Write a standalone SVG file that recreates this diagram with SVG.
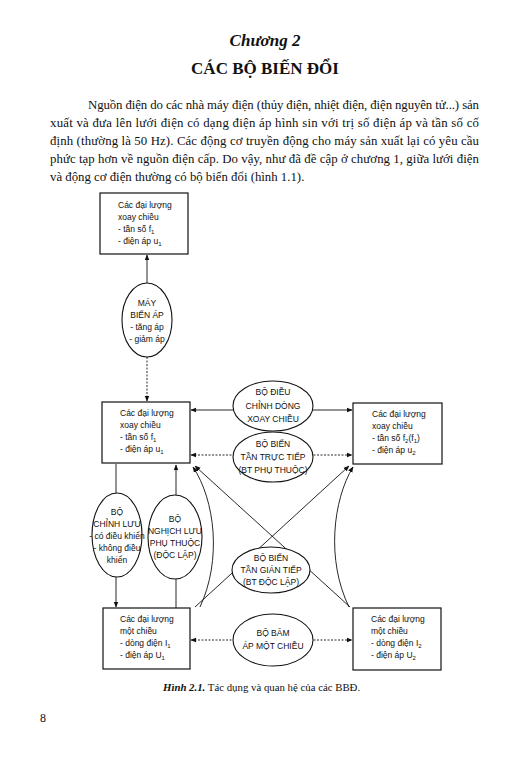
<svg xmlns="http://www.w3.org/2000/svg" width="528" height="766" viewBox="0 0 528 766">
<defs>
<style>
.serif{font-family:"Liberation Serif","Times New Roman",serif;fill:#111}
.sans{font-family:"Liberation Sans",Arial,sans-serif;font-size:8.5px;fill:#111}
.box{fill:#fff;stroke:#111;stroke-width:1.2}
.ell{fill:#fff;stroke:#111;stroke-width:1.1}
.ln{fill:none;stroke:#111;stroke-width:0.9}
.dot{fill:none;stroke:#111;stroke-width:0.9;stroke-dasharray:2 1.5}
</style>
<marker id="ah" viewBox="0 0 10 10" refX="9" refY="5" markerWidth="6" markerHeight="6" orient="auto-start-reverse" markerUnits="userSpaceOnUse">
<path d="M0,1 L10,5 L0,9 z" fill="#111"/>
</marker>
</defs>
<rect width="528" height="766" fill="#fff"/>
<text class="serif" x="265" y="46" font-size="17" font-weight="bold" font-style="italic" text-anchor="middle">Chương 2</text>
<text class="serif" x="265" y="74" font-size="17" font-weight="bold" text-anchor="middle">CÁC BỘ BIẾN ĐỔI</text>
<g class="serif" font-size="12.8">
<text x="88" y="109" textLength="391" lengthAdjust="spacing">Nguồn điện do các nhà máy điện (thủy điện, nhiệt điện, điện nguyên tử...) sản</text>
<text x="50" y="127" textLength="429" lengthAdjust="spacing">xuất và đưa lên lưới điện có dạng điện áp hình sin với trị số điện áp và tần số cố</text>
<text x="50" y="145" textLength="429" lengthAdjust="spacing">định (thường là 50 Hz). Các động cơ truyền động cho máy sản xuất lại có yêu cầu</text>
<text x="50" y="163" textLength="429" lengthAdjust="spacing">phức tạp hơn về nguồn điện cấp. Do vậy, như đã đề cập ở chương 1, giữa lưới điện</text>
<text x="50" y="181">và động cơ điện thường có bộ biến đổi (hình 1.1).</text>
</g>
<g id="connectors">
<line class="ln" x1="147" y1="284" x2="147" y2="255" marker-end="url(#ah)"/>
<line class="dot" x1="147" y1="357" x2="147" y2="401" marker-end="url(#ah)"/>
<line class="ln" x1="191" y1="410" x2="352" y2="410" marker-start="url(#ah)" marker-end="url(#ah)"/>
<line class="dot" x1="191" y1="455" x2="352" y2="455" marker-start="url(#ah)" marker-end="url(#ah)"/>
<line class="dot" x1="191" y1="640" x2="352" y2="640" marker-start="url(#ah)" marker-end="url(#ah)"/>
<line class="ln" x1="116" y1="464" x2="116" y2="607" marker-end="url(#ah)"/>
<line class="ln" x1="176" y1="608" x2="176" y2="465" marker-end="url(#ah)"/>
<line class="ln" x1="350" y1="607" x2="195" y2="466" marker-end="url(#ah)"/>
<line class="ln" x1="195" y1="607" x2="349" y2="466" marker-end="url(#ah)"/>
<path class="ln" d="M200,607 C222,560 215,500 193,467" marker-end="url(#ah)"/>
<path class="ln" d="M349,607 C326,560 333,500 353,467" marker-end="url(#ah)"/>
</g>
<g id="n1"><rect class="box" x="100" y="193" width="88" height="61"/>
<text class="sans"><tspan x="118" y="208">Các đại lượng</tspan><tspan x="118" y="220">xoay chiều</tspan><tspan x="118" y="232">- tần số f<tspan font-size="6" dy="2">1</tspan></tspan><tspan x="118" y="244">- điện áp u<tspan font-size="6" dy="2">1</tspan></tspan></text></g>
<g id="n2"><ellipse class="ell" cx="147" cy="320" rx="25" ry="37"/>
<text class="sans" text-anchor="middle"><tspan x="147" y="306">MÁY</tspan><tspan x="147" y="318">BIẾN ÁP</tspan><tspan x="147" y="330">- tăng áp</tspan><tspan x="147" y="342">- giảm áp</tspan></text></g>
<g id="n3"><rect class="box" x="102" y="402" width="88" height="61"/>
<text class="sans"><tspan x="120" y="416">Các đại lượng</tspan><tspan x="120" y="428">xoay chiều</tspan><tspan x="120" y="440">- tần số f<tspan font-size="6" dy="2">1</tspan></tspan><tspan x="120" y="452">- điện áp u<tspan font-size="6" dy="2">1</tspan></tspan></text></g>
<g id="n4"><rect class="box" x="353" y="403" width="89" height="61"/>
<text class="sans"><tspan x="372" y="417">Các đại lượng</tspan><tspan x="372" y="429">xoay chiều</tspan><tspan x="372" y="441">- tần số f<tspan font-size="6" dy="2">2</tspan><tspan dy="-2">(f</tspan><tspan font-size="6" dy="2">1</tspan><tspan dy="-2">)</tspan></tspan><tspan x="372" y="453">- điện áp u<tspan font-size="6" dy="2">2</tspan></tspan></text></g>
<g id="n5"><ellipse class="ell" cx="273" cy="406" rx="40" ry="25"/>
<text class="sans" text-anchor="middle"><tspan x="273" y="395">BỘ ĐIỀU</tspan><tspan x="273" y="409">CHỈNH DÒNG</tspan><tspan x="273" y="422">XOAY CHIỀU</tspan></text></g>
<g id="n6"><ellipse class="ell" cx="273" cy="457" rx="40" ry="25"/>
<text class="sans" text-anchor="middle"><tspan x="273" y="447">BỘ BIẾN</tspan><tspan x="273" y="460">TẦN TRỰC TIẾP</tspan><tspan x="273" y="473">(BT PHỤ THUỘC)</tspan></text></g>
<g id="n7"><ellipse class="ell" cx="117" cy="535" rx="25" ry="42"/>
<text class="sans" text-anchor="middle"><tspan x="117" y="515">BỘ</tspan><tspan x="117" y="527">CHỈNH LƯU</tspan><tspan x="117" y="539">- có điều khiển</tspan><tspan x="117" y="551">- không điều</tspan><tspan x="117" y="563">khiển</tspan></text></g>
<g id="n8"><ellipse class="ell" cx="175" cy="537" rx="27" ry="42"/>
<text class="sans" text-anchor="middle"><tspan x="175" y="522">BỘ</tspan><tspan x="175" y="534">NGHỊCH LƯU</tspan><tspan x="175" y="546">PHỤ THUỘC</tspan><tspan x="175" y="558">(ĐỘC LẬP)</tspan></text></g>
<g id="n9"><ellipse class="ell" cx="271" cy="570" rx="39" ry="23"/>
<text class="sans" text-anchor="middle"><tspan x="271" y="561">BỘ BIẾN</tspan><tspan x="271" y="573">TẦN GIÁN TIẾP</tspan><tspan x="271" y="585">(BT ĐỘC LẬP)</tspan></text></g>
<g id="n10"><ellipse class="ell" cx="273" cy="640" rx="40" ry="26"/>
<text class="sans" text-anchor="middle"><tspan x="273" y="636">BỘ BĂM</tspan><tspan x="273" y="649">ÁP MỘT CHIỀU</tspan></text></g>
<g id="n11"><rect class="box" x="103" y="608" width="87" height="61"/>
<text class="sans"><tspan x="120" y="622">Các đại lượng</tspan><tspan x="120" y="634">một chiều</tspan><tspan x="120" y="646">- dòng điện I<tspan font-size="6" dy="2">1</tspan></tspan><tspan x="120" y="658">- điện áp U<tspan font-size="6" dy="2">1</tspan></tspan></text></g>
<g id="n12"><rect class="box" x="353" y="608" width="88" height="62"/>
<text class="sans"><tspan x="371" y="622">Các đại lượng</tspan><tspan x="371" y="634">một chiều</tspan><tspan x="371" y="646">- dòng điện I<tspan font-size="6" dy="2">2</tspan></tspan><tspan x="371" y="658">- điện áp U<tspan font-size="6" dy="2">2</tspan></tspan></text></g>
<text class="serif" x="163" y="691" font-size="10.8"><tspan font-weight="bold" font-style="italic">Hình 2.1.</tspan> Tác dụng và quan hệ của các BBĐ.</text>
<text class="serif" x="40" y="722" font-size="12">8</text>
</svg>
